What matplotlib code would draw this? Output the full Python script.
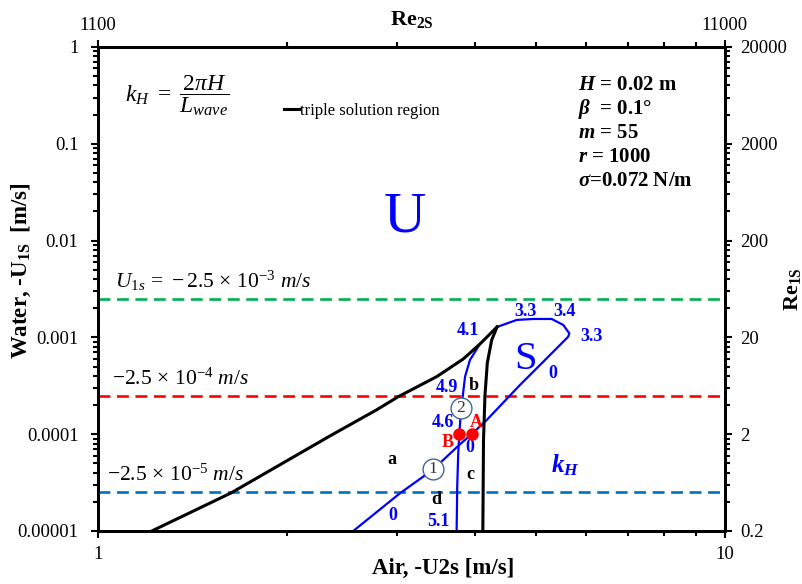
import matplotlib
matplotlib.use("Agg")
import matplotlib.pyplot as plt
from matplotlib.ticker import NullFormatter

plt.rcParams['font.family'] = 'Liberation Serif'
plt.rcParams['mathtext.fontset'] = 'custom'
plt.rcParams['mathtext.rm'] = 'Liberation Serif'
plt.rcParams['mathtext.it'] = 'Liberation Serif:italic'
plt.rcParams['mathtext.bf'] = 'Liberation Serif:bold:italic'   # bold italic symbols
plt.rcParams['mathtext.sf'] = 'Liberation Serif:bold'          # bold upright subscripts

# --- data ---
# triple solution region boundary (black)
triple_left_x = [1.219, 1.630, 2.344, 2.781, 3.013, 3.47, 3.825, 4.067, 4.313, 4.33]
triple_left_y = [1e-5, 2.47e-5, 9.58e-5, 1.78e-4, 2.44e-4, 3.93e-4, 5.98e-4, 8.55e-4, 1.25e-3, 1.28e-3]
triple_right_x = [4.33, 4.246, 4.178, 4.142, 4.120, 4.110]
triple_right_y = [1.28e-3, 9.40e-4, 5.44e-4, 2.48e-4, 8.71e-5, 1e-5]

# neutral stability loop (blue), kH = 0 branch up to the 3.3/3.4 cap
loop_x = [2.554, 3.031, 3.425, 3.765, 3.945, 4.169, 4.71, 5.165, 5.624, 5.646, 5.523, 5.292, 4.947, 4.654, 4.33]
loop_y = [1e-5, 2.45e-5, 4.32e-5, 7.7e-5, 1e-4, 1.40e-4, 3.22e-4, 5.84e-4, 1.016e-3, 1.10e-3, 1.343e-3, 1.549e-3,
          1.549e-3, 1.513e-3, 1.28e-3]

# second blue branch, kH 4.1 -> 5.1
branch_x = [4.067, 3.92, 3.85, 3.817, 3.789, 3.785, 3.77, 3.755, 3.741, 3.733]
branch_y = [8.55e-4, 5.84e-4, 3.93e-4, 2.44e-4, 1.87e-4, 1.47e-4, 1e-4, 6.35e-5, 2.87e-5, 1e-5]

# horizontal water velocity levels
u1s_levels = [2.5e-3, 2.5e-4, 2.5e-5]
u1s_colors = ['#00b050', '#ff0000', '#0070c0']
u1s_labels = [r'$U_{1s}\,=\,-2.5\,\times\,10^{-3}\ m/s$', r'$-2.5\,\times\,10^{-4}\ m/s$',
              r'$-2.5\,\times\,10^{-5}\ m/s$']

# points A, B and circled points 1, 2
dots_x = [3.945, 3.77]
dots_y = [1e-4, 1e-4]
circ_x = [3.425, 3.789]
circ_y = [4.32e-5, 1.87e-4]
circ_labels = ['1', '2']

# kH labels along the curves
kh_labels = ['3.3', '3.4', '3.3', '4.1', '0', '4.9', '4.6', '0', '5.1', '0']
kh_x = [4.80, 5.557, 6.124, 3.89, 5.317, 3.598, 3.549, 3.92, 3.489, 2.958]
kh_y = [1.87e-3, 1.87e-3, 1.01e-3, 1.19e-3, 4.28e-4, 3.0e-4, 1.31e-4, 7.2e-5, 1.25e-5, 1.43e-5]

# region letters
region_labels = ['a', 'b', 'c', 'd']
region_x = [2.94, 3.979, 3.92, 3.467]
region_y = [5.5e-5, 3.22e-4, 3.79e-5, 2.09e-5]

y_ticks = [1e-5, 1e-4, 1e-3, 1e-2, 1e-1, 1]
y_ticklabels = ['0.00001', '0.0001', '0.001', '0.01', '0.1', '1']
re1s_ticks = [0.2, 2, 20, 200, 2000, 20000]
re2s_ticks = [1100, 11000]

params = [r'$\mathbf{H}$ = 0.02 m', r'$\mathbf{\beta}$  = 0.1°', r'$\mathbf{m}$ = 55',
          r'$\mathbf{r}$ = 1000', r'$\mathbf{\sigma}$=0.072 N/m']

fig = plt.figure(figsize=(8.03, 5.84), dpi=100)
ax = fig.add_axes([0.122, 0.0908, 0.7808, 0.8288])
ax.set_xscale('log')
ax.set_yscale('log')
ax.set_xlim(1, 10)
ax.set_ylim(1e-5, 1)

for lev, col in zip(u1s_levels, u1s_colors):
    ax.axhline(lev, color=col, lw=1.9, ls=(0, (4.5, 2.5)), zorder=2)

ax.plot(loop_x, loop_y, color='#0000ff', lw=1.6, zorder=3)
ax.plot(branch_x, branch_y, color='#0000ff', lw=1.6, zorder=3)
ax.plot(triple_left_x, triple_left_y, color='black', lw=2.2, zorder=4, label='triple solution region')
ax.plot(triple_right_x, triple_right_y, color='black', lw=2.2, zorder=4)
ax.plot(dots_x, dots_y, 'o', color='#ff0000', ms=8, zorder=6)
ax.plot(circ_x, circ_y, 'o', ms=15, mfc='white', mec='#45688a', mew=1, zorder=6)
for x, y, s in zip(circ_x, circ_y, circ_labels):
    ax.text(x, y, s, ha='center', va='center', fontsize=12.5, color='#333333', zorder=7)

for x, y, s in zip(kh_x, kh_y, kh_labels):
    ax.text(x, y, s, ha='center', va='center', fontsize=13, fontweight='bold', color='#0000ff')
for x, y, s in zip(region_x, region_y, region_labels):
    ax.text(x, y, s, ha='center', va='center', fontsize=13, fontweight='bold', color='black')
ax.text(4.008, 1.31e-4, 'A', ha='center', va='center', fontsize=13, fontweight='bold', color='#ff0000')
ax.text(3.616, 8.11e-5, 'B', ha='center', va='center', fontsize=13, fontweight='bold', color='#ff0000')

ax.text(3.087, 1.75e-2, 'U', ha='center', va='center', fontsize=42, color='#0000ff')
ax.text(4.80, 5.84e-4, 'S', ha='center', va='center', fontsize=29, color='#0000ff')
ax.text(5.56, 4.8e-5, r'$\mathbf{k_H}$', ha='center', va='center', fontsize=18, color='#0000ff')

label_pos = [(0.027, 0.5165), (0.022, 0.314), (0.0144, 0.1157)]
for (fx, fy), s in zip(label_pos, u1s_labels):
    ax.text(fx, fy, s, transform=ax.transAxes, ha='left', va='center', fontsize=15.5)

ax.text(0.043, 0.90, r'$k_H\ =\ \dfrac{2\pi H}{L_{wave}}$', transform=ax.transAxes,
        ha='left', va='center', fontsize=17)
for i, s in enumerate(params):
    ax.text(0.7656, 0.9215 - i * 0.0496, s, transform=ax.transAxes, ha='left', va='center',
            fontsize=15, fontweight='bold')

ax.legend(loc='center left', bbox_to_anchor=(0.296, 0.868), frameon=False, fontsize=12,
          handlelength=0.9, handletextpad=0.1, borderpad=0, borderaxespad=0)

# ticks of main axes
ax.set_yticks(y_ticks, labels=y_ticklabels)
ax.set_xticks([1, 10], labels=['1', '10'])
ax.set_xticks(range(2, 10), minor=True)
ax.xaxis.set_minor_formatter(NullFormatter())
ax.yaxis.set_minor_formatter(NullFormatter())
ax.tick_params(which='both', direction='out', width=1.5, labelsize=13.5, top=False, right=False)
ax.tick_params(which='major', length=5, pad=6)
ax.tick_params(which='minor', length=3.5)
ax.tick_params(axis='y', which='major', pad=9)

# right axis: Re1S
axr = ax.twinx()
axr.set_yscale('log')
axr.set_ylim(0.2, 20000)
axr.set_yticks(re1s_ticks, labels=['0.2', '2', '20', '200', '2000', '20000'])
axr.set_yticks([0.2 * k * 10 ** n for n in range(5) for k in range(2, 10)], minor=True)
axr.yaxis.set_minor_formatter(NullFormatter())
axr.tick_params(which='both', direction='out', width=1.5, labelsize=13.5)
axr.tick_params(which='major', length=5, pad=6)
axr.tick_params(which='minor', length=3.5)
axr.set_ylabel(r'Re$_{\mathsf{1S}}$', fontsize=16, fontweight='bold')
axr.yaxis.set_label_coords(1.091, 0.5)

# top axis: Re2S
axt = ax.twiny()
axt.set_xscale('log')
axt.set_xlim(1100, 11000)
axt.set_xticks(re2s_ticks, labels=['1100', '11000'])
axt.set_xticks([1100 * k for k in range(2, 10)], minor=True)
axt.xaxis.set_minor_formatter(NullFormatter())
axt.tick_params(which='both', direction='out', width=1.5, labelsize=13.5)
axt.tick_params(which='major', length=5, pad=4)
axt.tick_params(which='minor', length=3.5)
axt.set_xlabel(r'Re$_{\mathsf{2S}}$', fontsize=16, fontweight='bold')
axt.xaxis.set_label_coords(0.5, 1.045)

ax.set_xlabel('Air, -U2s [m/s]', fontsize=16.5, fontweight='bold')
ax.xaxis.set_label_coords(0.55, -0.056)
ax.set_ylabel(r'Water, -U$_{\mathsf{1S}}$  [m/s]', fontsize=16.5, fontweight='bold')
ax.yaxis.set_label_coords(-0.1037, 0.539)

for a in (ax, axr, axt):
    for sp in a.spines.values():
        sp.set_linewidth(2)

fig.savefig('out.png', dpi=100)
